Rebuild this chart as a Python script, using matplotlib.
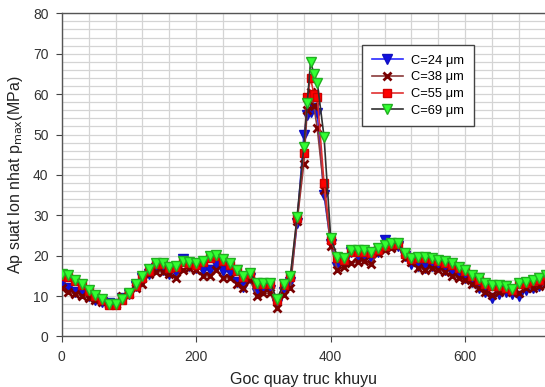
import matplotlib
matplotlib.use("Agg")
import matplotlib.pyplot as plt
from matplotlib.ticker import MultipleLocator

plt.rcParams['font.family'] = ['Liberation Sans', 'DejaVu Sans']

# Crank angle (degrees)
angle = [0, 10, 20, 30, 40, 50, 60, 70, 80, 90, 100, 110, 120, 130, 140, 150,
         160, 170, 180, 190, 200, 210, 220, 230, 240, 250, 260, 270, 280, 290,
         300, 310, 320, 330, 340, 350, 360, 365, 370, 375, 380, 390, 400, 410,
         420, 430, 440, 450, 460, 470, 480, 490, 500, 510, 520, 530, 540, 550,
         560, 570, 580, 590, 600, 610, 620, 630, 640, 650, 660, 670, 680, 690,
         700, 710, 720]

# Maximum bearing pressure (MPa) for each clearance
p_c24 = [13.5, 12.0, 11.0, 10.8, 10.0, 9.0, 8.5, 8.2, 8.0, 9.5, 10.5, 12.5, 14.5,
         15.5, 17.0, 16.5, 15.5, 16.0, 19.3, 17.5, 17.0, 16.5, 16.5, 18.0, 16.2,
         16.0, 13.5, 12.3, 14.5, 10.8, 11.5, 11.5, 8.0, 11.0, 13.6, 28.0, 49.9,
         54.8, 55.5, 56.5, 55.2, 35.0, 23.0, 17.3, 18.5, 21.0, 20.0, 20.0, 19.5,
         21.0, 24.0, 23.0, 22.5, 20.0, 18.0, 17.5, 17.0, 17.5, 17.5, 16.5, 16.0,
         15.5, 14.5, 13.5, 12.0, 11.0, 9.5, 10.5, 11.0, 10.5, 10.0, 11.5, 12.0,
         12.5, 13.0]
p_c38 = [12.0, 11.0, 10.5, 10.0, 9.5, 9.0, 8.5, 8.0, 8.0, 10.0, 10.5, 12.0, 13.0,
         15.5, 16.0, 16.0, 15.5, 14.5, 16.5, 17.0, 16.5, 15.0, 15.0, 16.5, 14.5,
         14.5, 13.0, 12.0, 14.0, 10.0, 10.7, 10.7, 7.0, 10.3, 12.0, 28.5, 42.8,
         56.1, 60.6, 57.0, 51.5, 36.2, 22.5, 16.5, 17.3, 18.1, 18.5, 18.8, 18.0,
         20.6, 21.5, 22.0, 22.5, 19.5, 18.5, 17.0, 16.5, 17.0, 16.5, 16.0, 15.0,
         14.5, 14.0, 13.0, 12.0, 11.0, 10.3, 11.0, 11.5, 11.0, 10.8, 12.0, 12.0,
         12.5, 13.0]
p_c55 = [15.0, 14.8, 13.8, 12.8, 11.3, 10.0, 9.0, 7.8, 7.8, 9.0, 10.5, 12.5, 14.5,
         16.3, 18.0, 18.0, 17.0, 17.2, 18.5, 18.2, 17.8, 18.5, 19.5, 20.0, 18.8,
         17.8, 16.2, 14.7, 15.5, 13.0, 12.9, 12.9, 9.0, 12.8, 14.8, 29.3, 45.3,
         59.4, 63.9, 60.0, 59.4, 38.0, 24.0, 19.5, 19.0, 21.0, 21.0, 21.0, 20.6,
         21.5, 22.3, 22.8, 22.8, 20.3, 19.1, 19.5, 19.5, 19.1, 18.7, 18.3, 17.8,
         17.0, 16.2, 15.0, 14.1, 12.9, 12.5, 12.5, 12.1, 11.4, 12.9, 13.3, 13.7,
         14.1, 15.0]
p_c69 = [15.5, 15.2, 14.0, 13.0, 11.5, 10.3, 9.3, 8.0, 8.0, 9.3, 10.8, 12.9, 14.9,
         16.6, 18.3, 18.3, 17.3, 17.5, 18.8, 18.5, 18.1, 18.8, 19.9, 20.2, 19.1,
         18.1, 16.5, 15.0, 15.8, 13.2, 13.2, 13.2, 9.2, 13.0, 15.0, 29.7, 47.0,
         57.7, 68.0, 65.0, 62.8, 49.5, 24.3, 19.8, 19.4, 21.4, 21.4, 21.4, 21.0,
         21.8, 22.6, 23.1, 23.1, 20.6, 19.4, 19.8, 19.8, 19.4, 19.0, 18.6, 18.1,
         17.3, 16.5, 15.3, 14.4, 13.2, 12.8, 12.8, 12.4, 11.7, 13.2, 13.6, 14.0,
         14.4, 15.3]

labels = ['C=24 μm', 'C=38 μm', 'C=55 μm', 'C=69 μm']

fig = plt.figure(figsize=(5.45, 3.87), dpi=100)
ax = fig.add_axes([0.1132, 0.1305, 0.8886, 0.8351])

ax.plot(angle, p_c24, color='#2a2aff', lw=1.2, marker='v', ms=6.5,
        mfc='#1010e0', mec='#1010c0', label=labels[0], zorder=3)
ax.plot(angle, p_c38, color='#8a3a3a', lw=1.2, marker='x', ms=6, mew=2,
        mec='#7a0000', label=labels[1], zorder=4)
ax.plot(angle, p_c55, color='#e03030', lw=1.2, marker='s', ms=6,
        mfc='#ff0000', mec='#d00000', label=labels[2], zorder=5)
ax.plot(angle, p_c69, color='#303030', lw=1.2, marker='v', ms=7.5,
        mfc='#33ff33', mec='#20b020', label=labels[3], zorder=6)

ax.set_xlim(0, 720)
ax.set_ylim(0, 80)
ax.xaxis.set_major_locator(MultipleLocator(200))
ax.xaxis.set_minor_locator(MultipleLocator(40))
ax.yaxis.set_major_locator(MultipleLocator(10))
ax.yaxis.set_minor_locator(MultipleLocator(2))
ax.grid(which='both', color='#d4d4d4', lw=0.9)
ax.set_axisbelow(True)
ax.tick_params(which='minor', length=0)
ax.tick_params(which='major', direction='out', length=4.5, color='#444444',
               labelsize=10, labelcolor='#333333', pad=5)
for s in ax.spines.values():
    s.set_color('#555555')
    s.set_linewidth(1.0)

ax.set_xlabel('Goc quay truc khuyu', fontsize=11.5, color='#222222', labelpad=6)
ax.set_ylabel('Ap suat lon nhat p$_{\\rm max}$(MPa)', fontsize=11.5,
              color='#222222', labelpad=6)

leg = ax.legend(loc='upper left', bbox_to_anchor=(0.620, 0.902), borderaxespad=0,
                fontsize=9.3, fancybox=False, edgecolor='#444444',
                handlelength=2.4, labelspacing=0.36, borderpad=0.75,
                handletextpad=0.64, framealpha=1)
leg.get_frame().set_linewidth(1.0)

fig.savefig('out.png', dpi=100)
